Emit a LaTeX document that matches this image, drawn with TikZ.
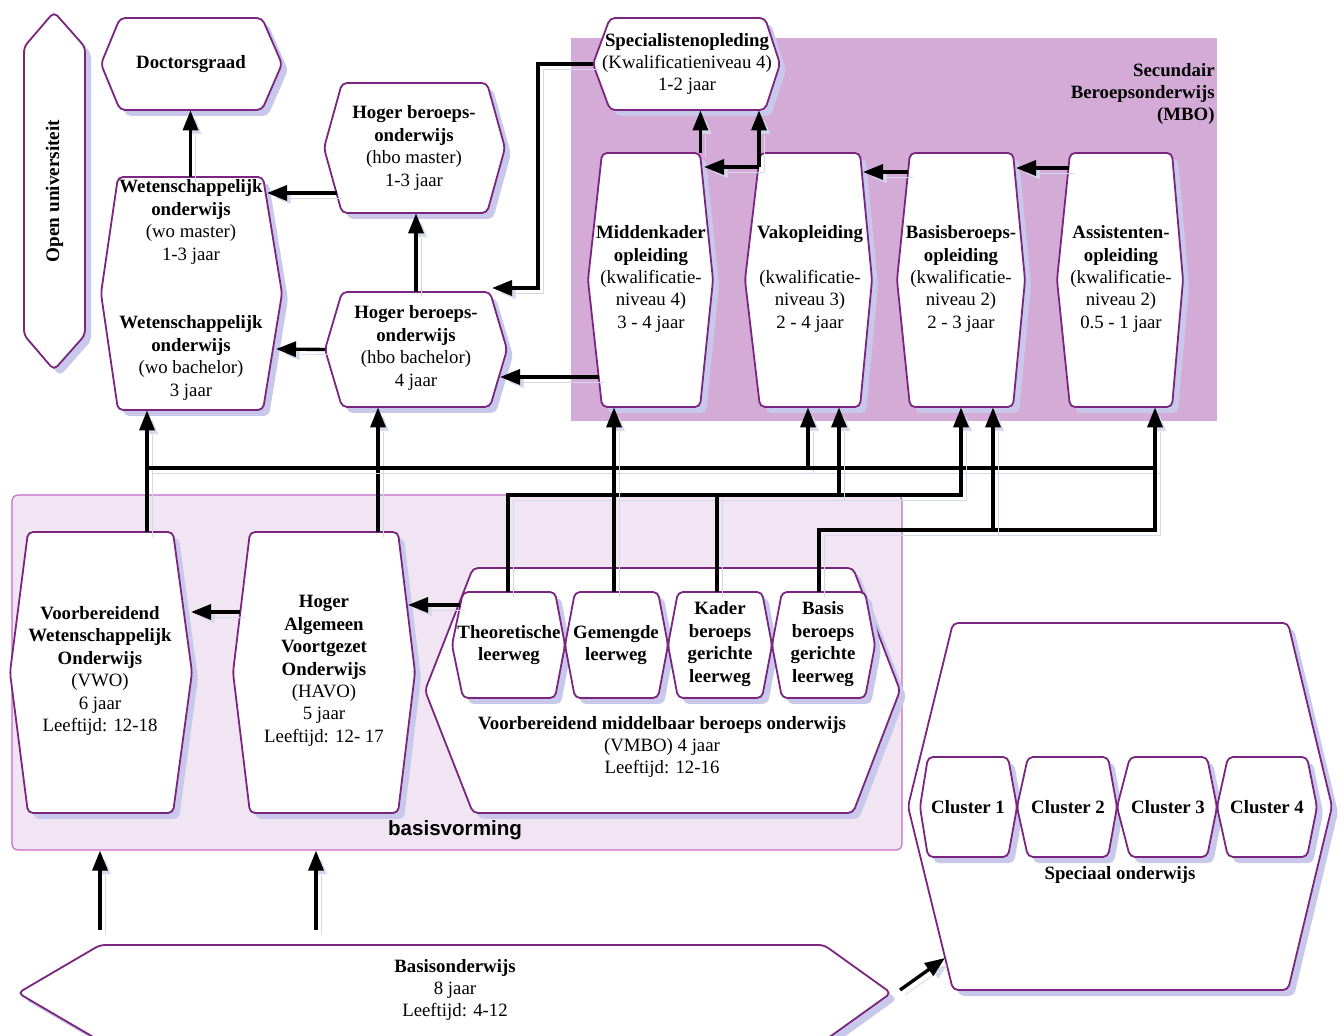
\documentclass[tikz,border=0pt]{standalone}
\usepackage{fontspec}
\setmainfont{Liberation Serif}
\newfontfamily\sansfnt{Liberation Sans}
\usetikzlibrary{fit,arrows.meta}
\definecolor{hexc}{HTML}{7A2580}
\definecolor{shc}{HTML}{C8C9EA}
\definecolor{shl}{HTML}{D3D8EA}
\definecolor{mboc}{HTML}{D4ABD7}
\definecolor{bvfill}{HTML}{F1E5F3}
\definecolor{bvdraw}{HTML}{C46CC6}
\newcommand\hexh[7]{%
  \fill[shc, rounded corners=2.5pt, xshift=3pt, yshift=-3pt] (#2,{(#6+#7)/2}) -- (#3,#6) -- (#4,#6) -- (#5,{(#6+#7)/2}) -- (#4,#7) -- (#3,#7) -- cycle;
  \draw[hexs] (#2,{(#6+#7)/2}) -- (#3,#6) -- (#4,#6) -- (#5,{(#6+#7)/2}) -- (#4,#7) -- (#3,#7) -- cycle;
  \node[fit={(#3,#6) (#4,#7)}, inner sep=0pt] (#1) {};
  \coordinate (#1-l) at (#2,{(#6+#7)/2});
  \coordinate (#1-r) at (#5,{(#6+#7)/2});
}
\begin{document}
\begin{tikzpicture}[x=0.5pt,y=-0.5pt,
  hexs/.style={draw=hexc, line width=0.9pt, fill=white, rounded corners=2.5pt},
  txt/.style={align=center, font=\fontsize{9.4}{11.2}\selectfont, inner sep=0pt},
  arr/.style={line width=1.7pt, -{Triangle[length=10pt,width=7.5pt]},
    preaction={draw=shl, transform canvas={xshift=2.5pt,yshift=-2.5pt}}},
  ln/.style={line width=1.7pt,
    preaction={draw=shl, transform canvas={xshift=2.5pt,yshift=-2.5pt}}}]
\useasboundingbox (0,0) rectangle (1344,1036);

% backgrounds
\node[fill=mboc, fit={(571,38) (1217,421)}, inner sep=0pt] (mbo) {};
\node[fill=bvfill, draw=bvdraw, line width=0.6pt, rounded corners=3pt, fit={(12,495) (902,850)}, inner sep=0pt] (bv) {};

% Open universiteit
\fill[shc, rounded corners=2.5pt, xshift=3pt, yshift=-3pt] (54,12) -- (85,47) -- (85,335) -- (54,370) -- (24,335) -- (24,47) -- cycle;
\draw[hexs] (54,12) -- (85,47) -- (85,335) -- (54,370) -- (24,335) -- (24,47) -- cycle;
\node[fit={(24,47) (85,335)}, inner sep=0pt] (ou) {};

% shapes
\hexh{doc}{101}{120}{262}{282}{18}{110}
\hexh{wo}{101}{118}{263}{282}{177}{410}
\hexh{hbom}{324}{342}{487}{505}{83}{213}
\hexh{hbob}{325}{342}{490}{507}{292}{407}
\hexh{spec}{593}{610}{765}{780}{18}{110}
\hexh{mk}{588}{602}{700}{713}{153}{407}
\hexh{vak}{745}{760}{860}{872}{153}{407}
\hexh{bb}{897}{910}{1013}{1025}{153}{407}
\hexh{ass}{1057}{1070}{1172}{1183}{153}{407}
\hexh{vwo}{10}{28}{173}{192}{532}{813}
\hexh{havo}{233}{250}{398}{415}{532}{813}
\hexh{vmbo}{425}{473}{853}{900}{568}{813}
\hexh{tl}{452}{463}{555}{565}{592}{698}
\hexh{gl}{565}{575}{658}{668}{592}{698}
\hexh{kl}{668}{678}{762}{772}{592}{698}
\hexh{bl}{772}{782}{865}{875}{592}{698}
\hexh{so}{908}{953}{1288}{1332}{623}{990}
\hexh{cl1}{920}{928}{1008}{1017}{757}{857}
\hexh{cl2}{1017}{1028}{1108}{1117}{757}{857}
\hexh{cl3}{1117}{1130}{1207}{1217}{757}{857}
\hexh{cl4}{1217}{1228}{1307}{1317}{757}{857}
\hexh{bo}{18}{100}{824}{891}{945}{1041}

% routing coordinates
\coordinate (j1) at (147,468);
\coordinate (j2) at (378,468);
\coordinate (xa) at (808,468);
\coordinate (xb) at (1155,468);
\coordinate (b1) at (508,495);
\coordinate (b2) at (717,495);
\coordinate (b3) at (839,495);
\coordinate (b4) at (961,495);
\coordinate (g1) at (614,500);
\coordinate (c1) at (819,530);
\coordinate (c2) at (993,530);
\coordinate (c3) at (1155,530);
\coordinate (h1) at (337,193);
\coordinate (w1) at (267,193);
\coordinate (w2) at (276,349);
\coordinate (m1) at (599,377);
\coordinate (hb1) at (500,377);
\coordinate (s1) at (538,64);
\coordinate (s2) at (538,288);
\coordinate (hb2) at (492,288);
\coordinate (v1) at (759,167);
\coordinate (mkr) at (704,167);
\coordinate (bb1) at (908,172);
\coordinate (vk1) at (863,172);
\coordinate (as1) at (1069,168);
\coordinate (bb2) at (1016,168);
\coordinate (tl1) at (460,605);
\coordinate (hv1) at (408,605);
\coordinate (hv2) at (240,612);
\coordinate (vw1) at (191,612);
\coordinate (ba1) at (100,930);
\coordinate (ba2) at (316,930);
\coordinate (bo1) at (900,990);
\coordinate (so1) at (945,958);

% connectors
\draw[arr] (wo.north) -- (wo.north |- doc.south);
\draw[arr] (h1) -- (w1);
\draw[arr] (hbob-l) -- (w2);
\draw[arr] (hbob.north) -- (hbob.north |- hbom.south);
\draw[arr] (m1) -- (hb1);
\draw[arr] (spec-l) -- (s1) -- (s2) -- (hb2);
\draw[arr] (mk.north east) -- (mk.north east |- spec.south);
\draw[arr] (v1) -- (mkr);
\draw[arr] (v1) -- (v1 |- spec.south);
\draw[arr] (bb1) -- (vk1);
\draw[arr] (as1) -- (bb2);

\draw[arr] (vwo.north -| j1) -- (wo.south -| j1);
\draw[arr] (havo.north -| j2) -- (hbob.south -| j2);
\draw[arr] (j1) -- (xa) -- (vak.south -| xa);
\draw[arr] (xa) -- (xb) -- (ass.south -| xb);
\draw[arr] (tl.north -| b1) -- (b1) -- (b4) -- (bb.south -| b4);
\draw[ln] (kl.north -| b2) -- (b2);
\draw[arr] (b3) -- (vak.south -| b3);
\draw[arr] (gl.north -| g1) -- (mk.south -| g1);
\draw[ln] (bl.north -| c1) -- (c1) -- (c3) -- (xb);
\draw[arr] (c2) -- (bb.south -| c2);

\draw[arr] (tl1) -- (hv1);
\draw[arr] (hv2) -- (vw1);
\draw[arr] (ba1) -- (ba1 |- bv.south);
\draw[arr] (ba2) -- (ba2 |- bv.south);
\draw[arr] (bo1) -- (so1);

% texts
\node[txt, rotate=90, font=\fontsize{9.6}{11.2}\selectfont\bfseries] (ou-t) at (ou) {Open universiteit};
\node[txt] (doc-t) at (191,64) {\textbf{Doctorsgraad}};
\node[txt] (wom-t) at (191,222) {\textbf{Wetenschappelijk}\\\textbf{onderwijs}\\(wo master)\\1-3 jaar};
\node[txt] (wob-t) at (191,358) {\textbf{Wetenschappelijk}\\\textbf{onderwijs}\\(wo bachelor)\\3 jaar};
\node[txt] (hbom-t) at (414,148) {\textbf{Hoger beroeps-}\\\textbf{onderwijs}\\(hbo master)\\1-3 jaar};
\node[txt] (hbob-t) at (416,348) {\textbf{Hoger beroeps-}\\\textbf{onderwijs}\\(hbo bachelor)\\4 jaar};
\node[txt] (spec-t) at (687,64) {\textbf{Specialistenopleding}\\(Kwalificatieniveau 4)\\1-2 jaar};
\node[txt, anchor=east, align=right] (mbo-t) at (1215,94) {\textbf{Secundair}\\\textbf{Beroepsonderwijs}\\\textbf{(MBO)}};
\node[txt] (mk-t) at (651,279) {\textbf{Middenkader}\\\textbf{opleiding}\\(kwalificatie-\\niveau 4)\\3 - 4 jaar};
\node[txt] (vak-t) at (810,279) {\textbf{Vakopleiding}\\\mbox{}\\(kwalificatie-\\niveau 3)\\2 - 4 jaar};
\node[txt] (bb-t) at (961,279) {\textbf{Basisberoeps-}\\\textbf{opleiding}\\(kwalificatie-\\niveau 2)\\2 - 3 jaar};
\node[txt] (ass-t) at (1121,279) {\textbf{Assistenten-}\\\textbf{opleiding}\\(kwalificatie-\\niveau 2)\\0.5 - 1 jaar};
\node[txt] (vwo-t) at (100,671) {\textbf{Voorbereidend}\\\textbf{Wetenschappelijk}\\\textbf{Onderwijs}\\(VWO)\\6 jaar\\Leeftijd: 12-18};
\node[txt] (havo-t) at (324,671) {\textbf{Hoger}\\\textbf{Algemeen}\\\textbf{Voortgezet}\\\textbf{Onderwijs}\\(HAVO)\\5 jaar\\Leeftijd: 12- 17};
\node[txt] (tl-t) at (509,645) {\textbf{Theoretische}\\\textbf{leerweg}};
\node[txt] (gl-t) at (616,645) {\textbf{Gemengde}\\\textbf{leerweg}};
\node[txt] (kl-t) at (720,644) {\textbf{Kader}\\\textbf{beroeps}\\\textbf{gerichte}\\\textbf{leerweg}};
\node[txt] (bl-t) at (823,644) {\textbf{Basis}\\\textbf{beroeps}\\\textbf{gerichte}\\\textbf{leerweg}};
\node[txt] (vmbo-t) at (662,747) {\textbf{Voorbereidend middelbaar beroeps onderwijs}\\(VMBO) 4 jaar\\Leeftijd: 12-16};
\node[inner sep=0pt, font=\sansfnt\fontsize{10.3}{12}\selectfont\bfseries] (bv-t) at (455,830) {basisvorming};
\node[txt] (cl1-t) at (968,807) {\textbf{Cluster 1}};
\node[txt] (cl2-t) at (1068,807) {\textbf{Cluster 2}};
\node[txt] (cl3-t) at (1168,807) {\textbf{Cluster 3}};
\node[txt] (cl4-t) at (1267,807) {\textbf{Cluster 4}};
\node[txt] (so-t) at (1120,875) {\textbf{Speciaal onderwijs}};
\node[txt] (bo-t) at (455,990) {\textbf{Basisonderwijs}\\8 jaar\\Leeftijd: 4-12};
\end{tikzpicture}
\end{document}
